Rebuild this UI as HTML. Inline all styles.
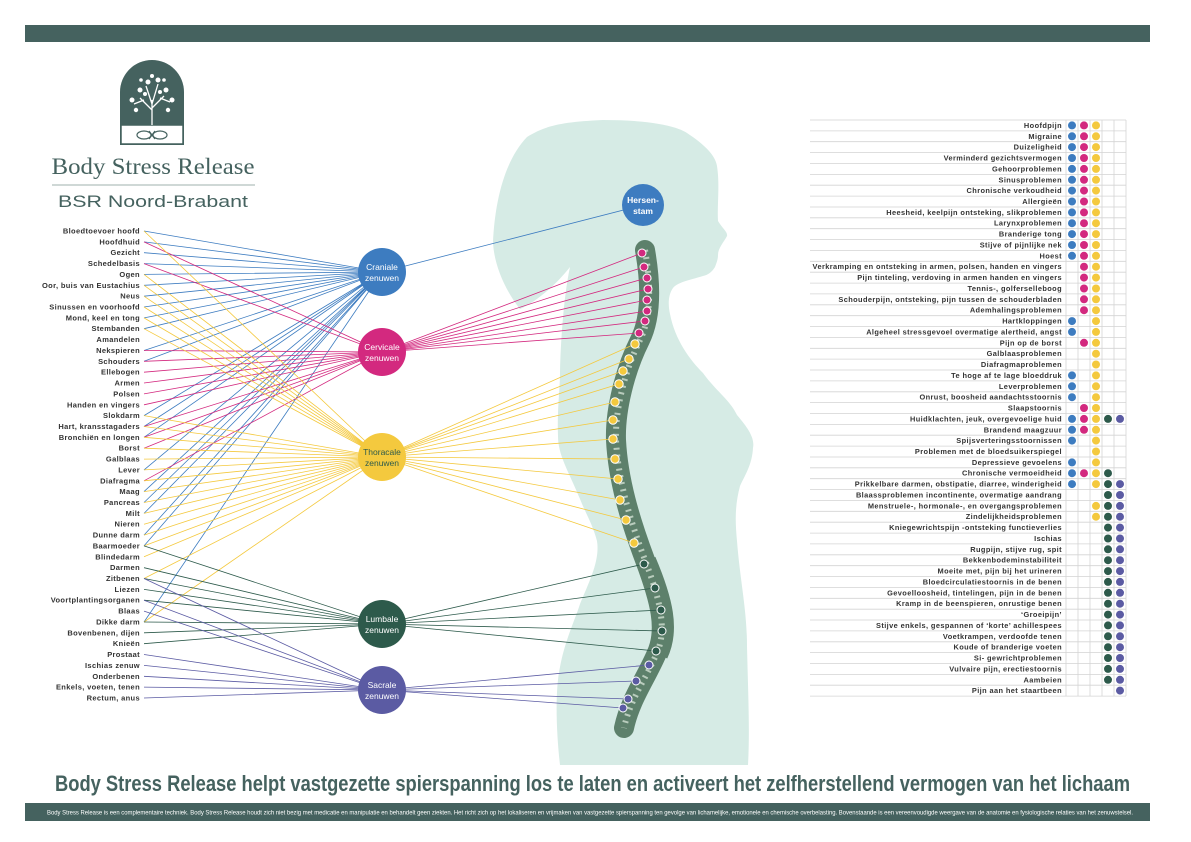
<!DOCTYPE html>
<html><head><meta charset="utf-8"><style>
html,body{margin:0;padding:0;background:#fff}
svg{display:block}
.l{font-family:"Liberation Sans",sans-serif;font-weight:bold;font-size:7.5px;letter-spacing:0.35px;fill:#333;text-anchor:end}
.t{font-family:"Liberation Sans",sans-serif;font-weight:bold;font-size:7.4px;letter-spacing:0.4px;fill:#333;text-anchor:end}
.n{font-family:"Liberation Sans",sans-serif;font-size:8.5px;fill:#fff;text-anchor:middle}
.b{fill:#3d7cc0}.m{fill:#d3297f}.y{fill:#f4c93e}.g{fill:#2d5a4b}.p{fill:#5b5ba3}
</style></head><body>
<svg width="1191" height="842" viewBox="0 0 1191 842" xmlns="http://www.w3.org/2000/svg">
<rect x="25" y="25" width="1125" height="17" fill="#45625f"/>
<!-- silhouette -->
<path d="M493 242 C495 200 505 160 527 137 C545 126 560 122 603 120 C645 120 675 125 687 133 C705 145 715 155 717 166 C720 185 717 205 718 221 C722 228 728 232 727 236 C724 242 718 248 718 255 C718 260 716 264 715 267 C712 272 708 275 703 276 C690 280 678 282 673 288 C668 295 668 305 670 314 C675 340 690 360 703 373 C715 390 730 400 737 415 C748 428 755 438 753 448 C752 465 745 475 740 486 C735 505 735 520 737 541 C740 580 747 610 747 646 C748 690 750 730 748 765 L560 765 C556 730 555 690 560 667 C565 640 575 620 580 604 C590 580 600 560 597 541 C593 525 585 512 580 499 C568 470 558 455 558 436 C557 410 560 390 560 372 C561 330 565 290 570 267 C560 280 540 300 520 309 C505 290 494 265 493 242 Z" fill="#d6ebe5"/>
<!-- logo -->
<path d="M120 145 L120 92 A32 32 0 0 1 184 92 L184 145 Z" fill="#45625f"/>
<rect x="121" y="125" width="62" height="19" fill="#fff" stroke="#45625f" stroke-width="1.5"/>
<g stroke="#fff" stroke-width="1.3" fill="none"><path d="M152 125 L152 100 M152 110 L140 98 M152 108 L164 96 M152 104 L146 86 M152 104 L158 84 M144 100 L134 104 M160 98 L170 102"/></g>
<g fill="#fff"><circle cx="140" cy="90" r="2.5"/><circle cx="148" cy="82" r="2.5"/><circle cx="158" cy="80" r="2.5"/><circle cx="166" cy="90" r="2.5"/><circle cx="132" cy="100" r="2.5"/><circle cx="172" cy="100" r="2.5"/><circle cx="136" cy="110" r="2.2"/><circle cx="168" cy="110" r="2.2"/><circle cx="145" cy="94" r="2"/><circle cx="160" cy="92" r="2"/><circle cx="152" cy="76" r="2"/><circle cx="141" cy="80" r="1.8"/><circle cx="164" cy="80" r="1.8"/></g>
<g stroke="#45625f" stroke-width="1.2" fill="none"><ellipse cx="144" cy="135" rx="7" ry="4"/><ellipse cx="160" cy="135" rx="7" ry="4"/><path d="M149 131 L155 139 M155 131 L149 139"/></g>
<text x="153" y="174" font-family="Liberation Serif,serif" font-size="23" fill="#45625f" text-anchor="middle" textLength="203" lengthAdjust="spacingAndGlyphs">Body Stress Release</text>
<line x1="52" y1="185" x2="255" y2="185" stroke="#9fb0ad" stroke-width="1"/>
<text x="153" y="207" font-family="Liberation Sans,sans-serif" font-size="17" fill="#45625f" text-anchor="middle" textLength="190" lengthAdjust="spacingAndGlyphs">BSR Noord-Brabant</text>
<!-- spine -->
<path d="M645 250 C652 290 650 320 640 340 C625 370 615 410 616 440 C618 480 630 520 645 560 C660 600 668 630 656 655 C645 680 630 700 624 728" fill="none" stroke="#5d806b" stroke-width="20" stroke-linecap="round"/>
<path d="M648 560 C665 600 672 630 660 655" fill="none" stroke="#5d806b" stroke-width="16"/>
<path d="M645 250 C652 290 650 320 640 340 C625 370 615 410 616 440 C618 480 630 520 645 560 C660 600 668 630 656 655 C645 680 630 700 624 728" fill="none" stroke="#b9ccbd" stroke-width="6" stroke-dasharray="2 5"/>
<!-- label to node lines -->
<g fill="none" stroke-width="0.8">
<path stroke="#3d7cc0" d="M144 231L382 272M144 241.9L382 272M144 252.7L382 272M144 263.6L382 272M144 274.4L382 272M144 285.3L382 272M144 296.2L382 272M144 307L382 272M144 317.9L382 272M144 328.7L382 272M144 350.5L382 272M144 361.3L382 272M144 415.6L382 272M144 426.5L382 272M144 437.3L382 272M144 469.9L382 272M144 491.6L382 272M144 502.5L382 272M144 513.4L382 272M144 535.1L382 272M144 545.9L382 272M144 622L382 272"/>
<path stroke="#d3297f" d="M144 241.9L382 352M144 263.6L382 352M144 350.5L382 352M144 361.3L382 352M144 372.2L382 352M144 383L382 352M144 393.9L382 352M144 404.8L382 352M144 426.5L382 352M144 437.3L382 352M144 448.2L382 352M144 480.8L382 352"/>
<path stroke="#f4c93e" d="M144 231L382 457M144 274.4L382 457M144 285.3L382 457M144 296.2L382 457M144 307L382 457M144 317.9L382 457M144 328.7L382 457M144 415.6L382 457M144 426.5L382 457M144 437.3L382 457M144 448.2L382 457M144 459.1L382 457M144 469.9L382 457M144 480.8L382 457M144 491.6L382 457M144 502.5L382 457M144 513.4L382 457M144 524.2L382 457M144 535.1L382 457M144 545.9L382 457M144 556.8L382 457M144 578.5L382 457M144 622L382 457"/>
<path stroke="#2d5a4b" d="M144 545.9L382 624M144 567.7L382 624M144 578.5L382 624M144 589.4L382 624M144 600.2L382 624M144 622L382 624M144 632.8L382 624M144 643.7L382 624"/>
<path stroke="#5b5ba3" d="M144 578.5L382 690M144 600.2L382 690M144 611.1L382 690M144 654.5L382 690M144 665.4L382 690M144 676.3L382 690M144 687.1L382 690M144 698L382 690"/>
<path stroke="#3d7cc0" d="M382 272L643 205"/>
<path stroke="#d3297f" d="M382 352L642 253M382 352L644 267M382 352L647 278M382 352L648 289M382 352L647 300M382 352L647 311M382 352L645 321M382 352L639 333"/>
<path stroke="#f4c93e" d="M382 457L635 344M382 457L629 359M382 457L623 371M382 457L619 384M382 457L615 402M382 457L613 420M382 457L613 439M382 457L615 459M382 457L618 479M382 457L620 500M382 457L626 520M382 457L634 543"/>
<path stroke="#2d5a4b" d="M382 624L644 564M382 624L655 588M382 624L661 610M382 624L662 631M382 624L656 651"/>
<path stroke="#5b5ba3" d="M382 690L649 665M382 690L636 681M382 690L628 699M382 690L623 708"/>
</g>
<g stroke="#fff" stroke-width="1">
<g class="m"><circle cx="642" cy="253" r="4"/><circle cx="644" cy="267" r="4"/><circle cx="647" cy="278" r="4"/><circle cx="648" cy="289" r="4"/><circle cx="647" cy="300" r="4"/><circle cx="647" cy="311" r="4"/><circle cx="645" cy="321" r="4"/><circle cx="639" cy="333" r="4"/></g>
<g class="y"><circle cx="635" cy="344" r="4.2"/><circle cx="629" cy="359" r="4.2"/><circle cx="623" cy="371" r="4.2"/><circle cx="619" cy="384" r="4.2"/><circle cx="615" cy="402" r="4.2"/><circle cx="613" cy="420" r="4.2"/><circle cx="613" cy="439" r="4.2"/><circle cx="615" cy="459" r="4.2"/><circle cx="618" cy="479" r="4.2"/><circle cx="620" cy="500" r="4.2"/><circle cx="626" cy="520" r="4.2"/><circle cx="634" cy="543" r="4.2"/></g>
<g class="g"><circle cx="644" cy="564" r="4"/><circle cx="655" cy="588" r="4"/><circle cx="661" cy="610" r="4"/><circle cx="662" cy="631" r="4"/><circle cx="656" cy="651" r="4"/></g>
<g class="p"><circle cx="649" cy="665" r="4"/><circle cx="636" cy="681" r="4"/><circle cx="628" cy="699" r="4"/><circle cx="623" cy="708" r="4"/></g>
</g>
<circle cx="382" cy="272" r="24" class="b"/><text class="n" x="382" y="270">Craniale</text><text class="n" x="382" y="281">zenuwen</text>
<circle cx="382" cy="352" r="24" class="m"/><text class="n" x="382" y="350">Cervicale</text><text class="n" x="382" y="361">zenuwen</text>
<circle cx="382" cy="457" r="24" class="y"/><text class="n" x="382" y="455" style="fill:#2d5a4b">Thoracale</text><text class="n" x="382" y="466" style="fill:#2d5a4b">zenuwen</text>
<circle cx="382" cy="624" r="24" class="g"/><text class="n" x="382" y="622">Lumbale</text><text class="n" x="382" y="633">zenuwen</text>
<circle cx="382" cy="690" r="24" class="p"/><text class="n" x="382" y="688">Sacrale</text><text class="n" x="382" y="699">zenuwen</text>
<circle cx="643" cy="205" r="21" class="b"/><text class="n" x="643" y="203" font-weight="bold">Hersen-</text><text class="n" x="643" y="214" font-weight="bold">stam</text>
<g class="l">
<text x="140" y="233.5">Bloedtoevoer hoofd</text><text x="140" y="244.4">Hoofdhuid</text><text x="140" y="255.2">Gezicht</text><text x="140" y="266.1">Schedelbasis</text><text x="140" y="276.9">Ogen</text><text x="140" y="287.8">Oor, buis van Eustachius</text><text x="140" y="298.7">Neus</text><text x="140" y="309.5">Sinussen en voorhoofd</text><text x="140" y="320.4">Mond, keel en tong</text><text x="140" y="331.2">Stembanden</text><text x="140" y="342.1">Amandelen</text><text x="140" y="353">Nekspieren</text><text x="140" y="363.8">Schouders</text><text x="140" y="374.7">Ellebogen</text><text x="140" y="385.5">Armen</text><text x="140" y="396.4">Polsen</text><text x="140" y="407.3">Handen en vingers</text><text x="140" y="418.1">Slokdarm</text><text x="140" y="429">Hart, kransstagaders</text><text x="140" y="439.8">Bronchiën en longen</text><text x="140" y="450.7">Borst</text><text x="140" y="461.6">Galblaas</text><text x="140" y="472.4">Lever</text><text x="140" y="483.3">Diafragma</text><text x="140" y="494.1">Maag</text><text x="140" y="505">Pancreas</text><text x="140" y="515.9">Milt</text><text x="140" y="526.7">Nieren</text><text x="140" y="537.6">Dunne darm</text><text x="140" y="548.4">Baarmoeder</text><text x="140" y="559.3">Blindedarm</text><text x="140" y="570.2">Darmen</text><text x="140" y="581">Zitbenen</text><text x="140" y="591.9">Liezen</text><text x="140" y="602.7">Voortplantingsorganen</text><text x="140" y="613.6">Blaas</text><text x="140" y="624.5">Dikke darm</text><text x="140" y="635.3">Bovenbenen, dijen</text><text x="140" y="646.2">Knieën</text><text x="140" y="657">Prostaat</text><text x="140" y="667.9">Ischias zenuw</text><text x="140" y="678.8">Onderbenen</text><text x="140" y="689.6">Enkels, voeten, tenen</text><text x="140" y="700.5">Rectum, anus</text>
</g>
<g stroke="#d4d4d4" stroke-width="0.8">
<path d="M810 120H1126M810 130.9H1126M810 141.7H1126M810 152.6H1126M810 163.5H1126M810 174.4H1126M810 185.2H1126M810 196.1H1126M810 207H1126M810 217.8H1126M810 228.7H1126M810 239.6H1126M810 250.4H1126M810 261.3H1126M810 272.2H1126M810 283.1H1126M810 293.9H1126M810 304.8H1126M810 315.7H1126M810 326.5H1126M810 337.4H1126M810 348.3H1126M810 359.1H1126M810 370H1126M810 380.9H1126M810 391.8H1126M810 402.6H1126M810 413.5H1126M810 424.4H1126M810 435.2H1126M810 446.1H1126M810 457H1126M810 467.8H1126M810 478.7H1126M810 489.6H1126M810 500.5H1126M810 511.3H1126M810 522.2H1126M810 533.1H1126M810 543.9H1126M810 554.8H1126M810 565.7H1126M810 576.5H1126M810 587.4H1126M810 598.3H1126M810 609.2H1126M810 620H1126M810 630.9H1126M810 641.8H1126M810 652.6H1126M810 663.5H1126M810 674.4H1126M810 685.2H1126M810 696.1H1126"/>
<path d="M1066 120V696M1078 120V696M1090 120V696M1102 120V696M1114 120V696M1126 120V696"/>
</g>
<g class="t">
<text x="1062" y="128">Hoofdpijn</text><text x="1062" y="138.8">Migraine</text><text x="1062" y="149.6">Duizeligheid</text><text x="1062" y="160.5">Verminderd gezichtsvermogen</text><text x="1062" y="171.4">Gehoorproblemen</text><text x="1062" y="182.3">Sinusproblemen</text><text x="1062" y="193.1">Chronische verkoudheid</text><text x="1062" y="204">Allergieën</text><text x="1062" y="214.9">Heesheid, keelpijn ontsteking, slikproblemen</text><text x="1062" y="225.7">Larynxproblemen</text><text x="1062" y="236.6">Branderige tong</text><text x="1062" y="247.5">Stijve of pijnlijke nek</text><text x="1062" y="258.3">Hoest</text><text x="1062" y="269.2">Verkramping en ontsteking in armen, polsen, handen en vingers</text><text x="1062" y="280.1">Pijn tinteling, verdoving in armen handen en vingers</text><text x="1062" y="291">Tennis-, golferselleboog</text><text x="1062" y="301.8">Schouderpijn, ontsteking, pijn tussen de schouderbladen</text><text x="1062" y="312.7">Ademhalingsproblemen</text><text x="1062" y="323.6">Hartkloppingen</text><text x="1062" y="334.4">Algeheel stressgevoel overmatige alertheid, angst</text><text x="1062" y="345.3">Pijn op de borst</text><text x="1062" y="356.2">Galblaasproblemen</text><text x="1062" y="367">Diafragmaproblemen</text><text x="1062" y="377.9">Te hoge af te lage bloeddruk</text><text x="1062" y="388.8">Leverproblemen</text><text x="1062" y="399.7">Onrust, boosheid aandachtsstoornis</text><text x="1062" y="410.5">Slaapstoornis</text><text x="1062" y="421.4">Huidklachten, jeuk, overgevoelige huid</text><text x="1062" y="432.3">Brandend maagzuur</text><text x="1062" y="443.1">Spijsverteringsstoornissen</text><text x="1062" y="454">Problemen met de bloedsuikerspiegel</text><text x="1062" y="464.9">Depressieve gevoelens</text><text x="1062" y="475.7">Chronische vermoeidheid</text><text x="1062" y="486.6">Prikkelbare darmen, obstipatie, diarree, winderigheid</text><text x="1062" y="497.5">Blaassproblemen incontinente, overmatige aandrang</text><text x="1062" y="508.4">Menstruele-, hormonale-, en overgangsproblemen</text><text x="1062" y="519.2">Zindelijkheidsproblemen</text><text x="1062" y="530.1">Kniegewrichtspijn -ontsteking functieverlies</text><text x="1062" y="541">Ischias</text><text x="1062" y="551.8">Rugpijn, stijve rug, spit</text><text x="1062" y="562.7">Bekkenbodeminstabiliteit</text><text x="1062" y="573.6">Moeite met, pijn bij het urineren</text><text x="1062" y="584.4">Bloedcirculatiestoornis in de benen</text><text x="1062" y="595.3">Gevoelloosheid, tintelingen, pijn in de benen</text><text x="1062" y="606.2">Kramp in de beenspieren, onrustige benen</text><text x="1062" y="617.1">‘Groeipijn’</text><text x="1062" y="627.9">Stijve enkels, gespannen of ‘korte’ achillespees</text><text x="1062" y="638.8">Voetkrampen, verdoofde tenen</text><text x="1062" y="649.7">Koude of branderige voeten</text><text x="1062" y="660.5">Si- gewrichtproblemen</text><text x="1062" y="671.4">Vulvaire pijn, erectiestoornis</text><text x="1062" y="682.3">Aambeien</text><text x="1062" y="693.1">Pijn aan het staartbeen</text>
</g>
<g class="b">
<circle cx="1072" cy="125.4" r="4"/><circle cx="1072" cy="136.3" r="4"/><circle cx="1072" cy="147.1" r="4"/><circle cx="1072" cy="158" r="4"/><circle cx="1072" cy="168.9" r="4"/><circle cx="1072" cy="179.8" r="4"/><circle cx="1072" cy="190.6" r="4"/><circle cx="1072" cy="201.5" r="4"/><circle cx="1072" cy="212.4" r="4"/><circle cx="1072" cy="223.2" r="4"/><circle cx="1072" cy="234.1" r="4"/><circle cx="1072" cy="245" r="4"/><circle cx="1072" cy="255.8" r="4"/><circle cx="1072" cy="321.1" r="4"/><circle cx="1072" cy="331.9" r="4"/><circle cx="1072" cy="375.4" r="4"/><circle cx="1072" cy="386.3" r="4"/><circle cx="1072" cy="397.2" r="4"/><circle cx="1072" cy="418.9" r="4"/><circle cx="1072" cy="429.8" r="4"/><circle cx="1072" cy="440.6" r="4"/><circle cx="1072" cy="462.4" r="4"/><circle cx="1072" cy="473.2" r="4"/><circle cx="1072" cy="484.1" r="4"/>
</g>
<g class="m">
<circle cx="1084" cy="125.4" r="4"/><circle cx="1084" cy="136.3" r="4"/><circle cx="1084" cy="147.1" r="4"/><circle cx="1084" cy="158" r="4"/><circle cx="1084" cy="168.9" r="4"/><circle cx="1084" cy="179.8" r="4"/><circle cx="1084" cy="190.6" r="4"/><circle cx="1084" cy="201.5" r="4"/><circle cx="1084" cy="212.4" r="4"/><circle cx="1084" cy="223.2" r="4"/><circle cx="1084" cy="234.1" r="4"/><circle cx="1084" cy="245" r="4"/><circle cx="1084" cy="255.8" r="4"/><circle cx="1084" cy="266.7" r="4"/><circle cx="1084" cy="277.6" r="4"/><circle cx="1084" cy="288.5" r="4"/><circle cx="1084" cy="299.3" r="4"/><circle cx="1084" cy="310.2" r="4"/><circle cx="1084" cy="342.8" r="4"/><circle cx="1084" cy="408" r="4"/><circle cx="1084" cy="418.9" r="4"/><circle cx="1084" cy="429.8" r="4"/><circle cx="1084" cy="473.2" r="4"/>
</g>
<g class="y">
<circle cx="1096" cy="125.4" r="4"/><circle cx="1096" cy="136.3" r="4"/><circle cx="1096" cy="147.1" r="4"/><circle cx="1096" cy="158" r="4"/><circle cx="1096" cy="168.9" r="4"/><circle cx="1096" cy="179.8" r="4"/><circle cx="1096" cy="190.6" r="4"/><circle cx="1096" cy="201.5" r="4"/><circle cx="1096" cy="212.4" r="4"/><circle cx="1096" cy="223.2" r="4"/><circle cx="1096" cy="234.1" r="4"/><circle cx="1096" cy="245" r="4"/><circle cx="1096" cy="255.8" r="4"/><circle cx="1096" cy="266.7" r="4"/><circle cx="1096" cy="277.6" r="4"/><circle cx="1096" cy="288.5" r="4"/><circle cx="1096" cy="299.3" r="4"/><circle cx="1096" cy="310.2" r="4"/><circle cx="1096" cy="321.1" r="4"/><circle cx="1096" cy="331.9" r="4"/><circle cx="1096" cy="342.8" r="4"/><circle cx="1096" cy="353.7" r="4"/><circle cx="1096" cy="364.5" r="4"/><circle cx="1096" cy="375.4" r="4"/><circle cx="1096" cy="386.3" r="4"/><circle cx="1096" cy="397.2" r="4"/><circle cx="1096" cy="408" r="4"/><circle cx="1096" cy="418.9" r="4"/><circle cx="1096" cy="429.8" r="4"/><circle cx="1096" cy="440.6" r="4"/><circle cx="1096" cy="451.5" r="4"/><circle cx="1096" cy="462.4" r="4"/><circle cx="1096" cy="473.2" r="4"/><circle cx="1096" cy="484.1" r="4"/><circle cx="1096" cy="505.9" r="4"/><circle cx="1096" cy="516.7" r="4"/>
</g>
<g class="g">
<circle cx="1108" cy="418.9" r="4"/><circle cx="1108" cy="473.2" r="4"/><circle cx="1108" cy="484.1" r="4"/><circle cx="1108" cy="495" r="4"/><circle cx="1108" cy="505.9" r="4"/><circle cx="1108" cy="516.7" r="4"/><circle cx="1108" cy="527.6" r="4"/><circle cx="1108" cy="538.5" r="4"/><circle cx="1108" cy="549.3" r="4"/><circle cx="1108" cy="560.2" r="4"/><circle cx="1108" cy="571.1" r="4"/><circle cx="1108" cy="581.9" r="4"/><circle cx="1108" cy="592.8" r="4"/><circle cx="1108" cy="603.7" r="4"/><circle cx="1108" cy="614.6" r="4"/><circle cx="1108" cy="625.4" r="4"/><circle cx="1108" cy="636.3" r="4"/><circle cx="1108" cy="647.2" r="4"/><circle cx="1108" cy="658" r="4"/><circle cx="1108" cy="668.9" r="4"/><circle cx="1108" cy="679.8" r="4"/>
</g>
<g class="p">
<circle cx="1120" cy="418.9" r="4"/><circle cx="1120" cy="484.1" r="4"/><circle cx="1120" cy="495" r="4"/><circle cx="1120" cy="505.9" r="4"/><circle cx="1120" cy="516.7" r="4"/><circle cx="1120" cy="527.6" r="4"/><circle cx="1120" cy="538.5" r="4"/><circle cx="1120" cy="549.3" r="4"/><circle cx="1120" cy="560.2" r="4"/><circle cx="1120" cy="571.1" r="4"/><circle cx="1120" cy="581.9" r="4"/><circle cx="1120" cy="592.8" r="4"/><circle cx="1120" cy="603.7" r="4"/><circle cx="1120" cy="614.6" r="4"/><circle cx="1120" cy="625.4" r="4"/><circle cx="1120" cy="636.3" r="4"/><circle cx="1120" cy="647.2" r="4"/><circle cx="1120" cy="658" r="4"/><circle cx="1120" cy="668.9" r="4"/><circle cx="1120" cy="679.8" r="4"/><circle cx="1120" cy="690.6" r="4"/>
</g>
<text x="55" y="791" font-family="Liberation Sans,sans-serif" font-weight="bold" font-size="22" fill="#45625f" textLength="1075" lengthAdjust="spacingAndGlyphs">Body Stress Release helpt vastgezette spierspanning los te laten en activeert het zelfherstellend vermogen van het lichaam</text>
<rect x="25" y="803" width="1125" height="18" fill="#45625f"/>
<text x="47" y="814.5" font-family="Liberation Sans,sans-serif" font-size="6.5" fill="#fff" textLength="1086" lengthAdjust="spacingAndGlyphs">Body Stress Release is een complementaire techniek. Body Stress Release houdt zich niet bezig met medicatie en manipulatie en behandelt geen ziekten. Het richt zich op het lokaliseren en vrijmaken van vastgezette spierspanning ten gevolge van lichamelijke, emotionele en chemische overbelasting. Bovenstaande is een vereenvoudigde weergave van de anatomie en fysiologische relaties van het zenuwstelsel.</text>
</svg>
</body></html>
